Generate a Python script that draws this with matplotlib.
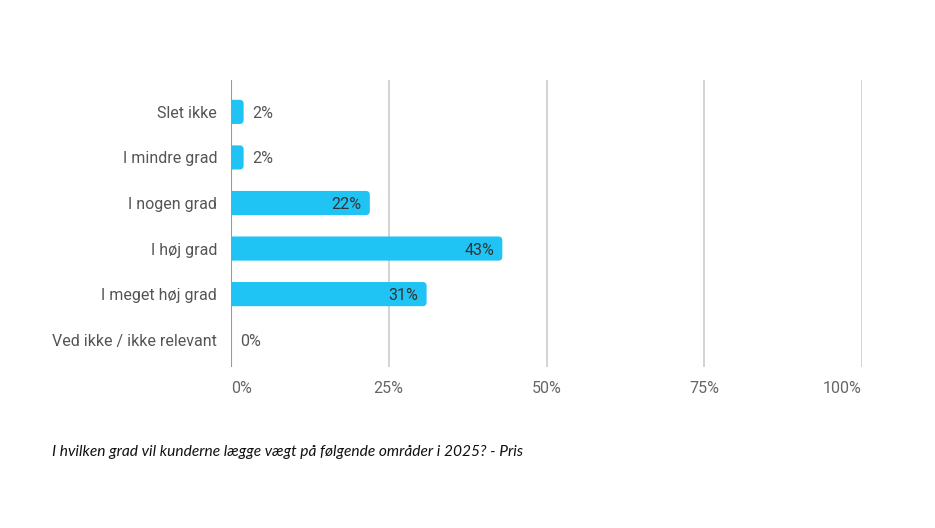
import matplotlib.pyplot as plt
from matplotlib.patches import FancyBboxPatch

categories = ["Slet ikke", "I mindre grad", "I nogen grad", "I høj grad",
              "I meget høj grad", "Ved ikke / ikke relevant"]
values = [2, 2, 22, 43, 31, 0]
ticks = [0, 25, 50, 75, 100]
tick_labels = ["0%", "25%", "50%", "75%", "100%"]
caption = "I hvilken grad vil kunderne lægge vægt på følgende områder i 2025? - Pris"

plt.rcParams['font.family'] = ['Roboto', 'DejaVu Sans']

fig = plt.figure(figsize=(9.35, 5.28), dpi=100)
ax = fig.add_axes([231/935, 1-367/528, 631/935, 287/528])
ax.set_xlim(0, 100)
ax.set_ylim(5.6, -0.7)

bar_color = "#1fc3f4"
px_x = 100/631
px_y = 6.3/287
h = 0.53
for i, v in enumerate(values):
    if v > 0:
        p = FancyBboxPatch((-5, i-h/2), v+5, h,
                           boxstyle="round,pad=0,rounding_size=%f" % (4*px_x),
                           mutation_aspect=px_y/px_x,
                           fc=bar_color, ec="none", zorder=3, clip_on=True)
        ax.add_patch(p)
    if v >= 10:
        ax.text(v - 8*px_x, i, "%d%%" % v, ha="right", va="center_baseline",
                fontsize=11.5, color="#333333", zorder=4)
    else:
        ax.text(v + 9*px_x if v > 0 else 9*px_x, i, "%d%%" % v, ha="left",
                va="center_baseline", fontsize=11.5, color="#555555", zorder=4)

for t in ticks[1:]:
    ax.axvline(t, color="#cccccc", lw=1.2, zorder=1)
ax.axvline(0, color="#999999", lw=1.5, zorder=5)

ax.set_yticks(range(len(categories)))
ax.set_yticklabels(categories, fontsize=11.5, color="#555555")
ax.set_xticks(ticks)
ax.set_xticklabels(tick_labels, fontsize=11.5, color="#666666")
xl = ax.get_xticklabels()
xl[0].set_ha("left")
xl[-1].set_ha("right")
ax.tick_params(length=0, pad=10, axis="y")
ax.tick_params(length=0, pad=10, axis="x")
for s in ax.spines.values():
    s.set_visible(False)

fig.text(52/935, 1-452/528, caption, fontsize=11.2, style="italic",
         family=["Lato", "DejaVu Sans"], color="#111111", va="center")

fig.savefig("out.png", dpi=100)
